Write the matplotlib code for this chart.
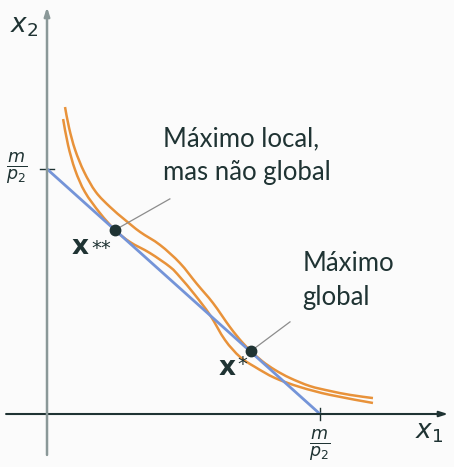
import numpy as np
import matplotlib
matplotlib.use("Agg")
import matplotlib.pyplot as plt
from matplotlib.path import Path
from matplotlib.patches import PathPatch

# units: m/p1 = m/p2 = 10
budget_x = [0.0, 10.0]
budget_y = [10.0, 0.0]

# indifference curve tangent at x** (local max)
low_x = [0.59, 0.77, 1.03, 1.39, 1.94, 2.49, 3.04, 3.77, 4.51, 4.87, 5.42, 5.97,
         6.52, 7.07, 7.62, 8.35, 9.27, 10.37, 11.94]
low_y = [12.04, 10.98, 9.96, 9.06, 8.20, 7.51, 7.02, 6.57, 6.00, 5.59, 4.86, 4.04,
         3.02, 2.33, 1.92, 1.47, 1.10, 0.78, 0.45]

# indifference curve tangent at x* (global max)
high_x = [0.66, 0.81, 1.03, 1.36, 1.79, 2.31, 2.86, 3.41, 4.14, 4.87, 5.49, 6.08,
          6.70, 7.14, 7.47, 7.88, 8.35, 8.90, 9.63, 10.37, 11.10, 11.94]
high_y = [12.53, 11.67, 10.78, 9.88, 9.06, 8.45, 7.92, 7.43, 6.90, 6.16, 5.31, 4.53,
          3.55, 2.94, 2.57, 2.16, 1.80, 1.47, 1.14, 0.94, 0.78, 0.65]

pt_local = (2.49, 7.51)
pt_global = (7.47, 2.57)

orange = "#e8923a"
blue = "#7494d8"
ink = "#1f3333"


def smooth_curve(ax, xs, ys, **kw):
    # draw the read points as a Catmull-Rom curve (bezier segments)
    p = np.column_stack([xs, ys])
    verts = [p[0]]
    codes = [Path.MOVETO]
    n = len(p)
    for i in range(n - 1):
        p0 = p[max(i - 1, 0)]
        p1 = p[i]
        p2 = p[i + 1]
        p3 = p[min(i + 2, n - 1)]
        verts += [p1 + (p2 - p0) / 6, p2 - (p3 - p1) / 6, p2]
        codes += [Path.CURVE4] * 3
    ax.add_patch(PathPatch(Path(verts, codes), fill=False, **kw))


fig = plt.figure(figsize=(4.54, 4.67), dpi=100)
fig.patch.set_facecolor("#fbfbfb")
ax = fig.add_axes([0, 0, 1, 1])
ax.set_facecolor("#fbfbfb")
ax.set_xlim(-1.722, 14.908)
ax.set_ylim(-2.163, 16.898)
ax.axis("off")

# axes with arrows
ax.annotate("", xy=(14.69, 0), xytext=(-1.5, 0),
            arrowprops=dict(arrowstyle="-|>,head_length=0.5,head_width=0.16",
                            color=ink, lw=1.5, shrinkA=0, shrinkB=0))
ax.annotate("", xy=(0, 16.61), xytext=(0, -1.67),
            arrowprops=dict(arrowstyle="-|>,head_length=0.5,head_width=0.16",
                            color="#8a9898", lw=1.8, shrinkA=0, shrinkB=0))

# ticks at the intercepts
ax.plot([-0.25, 0.25], [10, 10], color=ink, lw=1.0)
ax.plot([10, 10], [-0.25, 0.25], color=ink, lw=1.0)

ax.plot(budget_x, budget_y, color=blue, lw=2.0, solid_capstyle="butt")
smooth_curve(ax, low_x, low_y, edgecolor=orange, lw=1.8)
smooth_curve(ax, high_x, high_y, edgecolor=orange, lw=1.8)

# leader lines
ax.plot([pt_local[0], 4.50], [pt_local[1], 8.78], color="#8c8c8c", lw=0.9)
ax.plot([pt_global[0], 8.90], [pt_global[1], 3.76], color="#8c8c8c", lw=0.9)

ax.plot(*pt_local, "o", color=ink, ms=7.5, zorder=5)
ax.plot(*pt_global, "o", color=ink, ms=7.5, zorder=5)

fam = ["Lato", "DejaVu Sans"]
ax.text(4.25, 10.55, "Máximo local,\nmas não global", fontsize=18.5, family=fam,
        color=ink, ha="left", va="center", linespacing=1.45)
ax.text(9.35, 5.45, "Máximo\nglobal", fontsize=18.5, family=fam,
        color=ink, ha="left", va="center", linespacing=1.45)

# point labels: bold x plus asterisks
ax.text(1.23, 6.55, r"$\mathbf{x}$", fontsize=19, color=ink, ha="center", va="baseline")
ax.text(1.62, 6.55, "**", fontsize=14, family="DejaVu Sans", color=ink,
        ha="left", va="baseline")
ax.text(6.59, 1.60, r"$\mathbf{x}$", fontsize=19, color=ink, ha="center", va="baseline")
ax.text(6.98, 1.80, "*", fontsize=14, family="DejaVu Sans", color=ink,
        ha="left", va="baseline")

ax.text(-0.85, 15.85, r"$x_2$", fontsize=19, color=ink, ha="center", va="center")
ax.text(14.0, -0.75, r"$x_1$", fontsize=19, color=ink, ha="center", va="center")

ax.text(-1.1, 10.0, r"$\frac{m}{p_2}$", fontsize=18, color=ink, ha="center", va="center")
ax.text(10.0, -1.3, r"$\frac{m}{p_2}$", fontsize=18, color=ink, ha="center", va="center")

fig.savefig("out.png", dpi=100, facecolor=fig.get_facecolor())
